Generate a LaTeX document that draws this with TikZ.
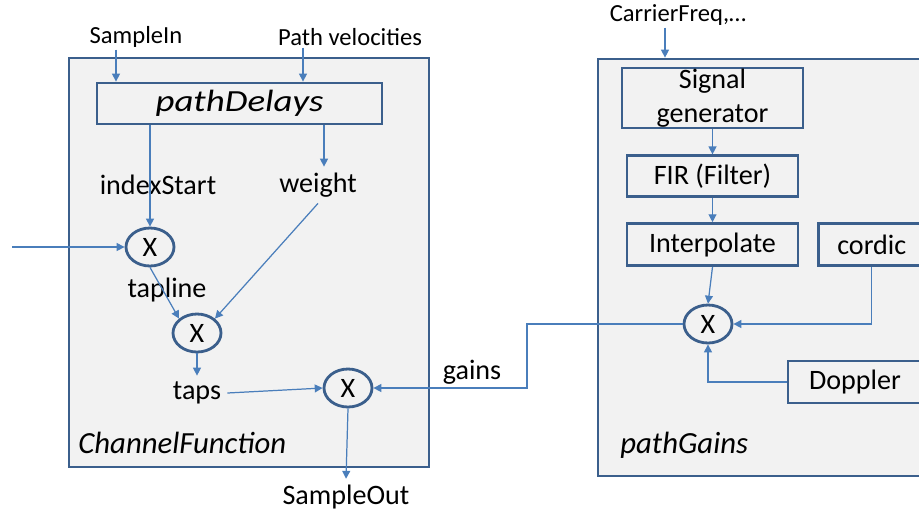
\documentclass[tikz,border=0pt]{standalone}
\usepackage{fontspec}
\usepackage{graphicx}
\setmainfont{Carlito}
\usetikzlibrary{positioning}
\usetikzlibrary{arrows.meta}
\usetikzlibrary{shapes.geometric}

\definecolor{boxblue}{HTML}{3B5F8C}
\definecolor{lineblue}{HTML}{4A7EBB}
\definecolor{panelgray}{HTML}{F2F2F2}

\tikzset{
  panel/.style={draw=boxblue, line width=1.6pt, fill=panelgray},
  block/.style={draw=boxblue, line width=1.6pt, fill=panelgray, inner sep=0pt,
    font=\fontsize{16}{19}\selectfont},
  mult/.style={ellipse, draw=boxblue, line width=1.6pt, fill=panelgray, inner sep=0pt,
    minimum width=0.96cm, minimum height=0.76cm, font=\fontsize{16}{19}\selectfont},
  arr/.style={draw=lineblue, line width=0.7pt, -{Triangle[length=4.5pt,width=4.5pt]}},
  lbl/.style={font=\fontsize{16}{19}\selectfont},
  inlbl/.style={font=\fontsize{14}{16}\selectfont, inner sep=1pt},
  blockname/.style={font=\fontsize{17.5}{20}\selectfont\itshape, inner sep=0pt, anchor=west},
}

\begin{document}
\begin{tikzpicture}[x=0.02cm, y=-0.02cm]
			\clip (0,0) rectangle (919,512);
			
			% channel function
			\node[panel, minimum width=7.2cm, minimum height=8.18cm] (cfun) at (249,262.5) {};
			\node[block, minimum width=5.7cm, minimum height=0.82cm, font=\fontsize{17.5}{20}\selectfont\itshape] (dl) at (239.5,103.5) {\scalebox{1.2}[1]{pathDelays}};
			\node[inlbl] (si) at (136,37) {SampleIn};
			\node[inlbl] (pv) at (350,37) {Path velocities};
			\node[lbl] (is) at (158,185) {indexStart};
			\node[lbl] (wt) at (318,185) {weight};
			\node[mult] (m1) at (150,247) {X};
			\node[lbl] (tl) at (167,290) {tapline};
			\node[mult] (m2) at (197,333) {X};
			\node[lbl] (tp) at (197,393) {taps};
			\node[mult] (m3) at (348,388) {X};
			\node[lbl] (so) at (346,497) {SampleOut};
			\node[blockname] (cfname) at (78,443) {ChannelFunction};
			\coordinate (in) at (12,247);
			
			% path gains
			\node[panel, minimum width=6.52cm, minimum height=8.34cm] (pg) at (761,267.5) {};
			\node[inlbl] (cq) at (678,15) {CarrierFreq,…};
			\node[block, minimum width=3.62cm, minimum height=1.2cm, align=center] (sg) at (712.5,98) {Signal\\generator};
			\node[block, minimum width=3.42cm, minimum height=0.82cm, below=0.5cm of sg] (fir) {FIR (Filter)};
			\node[block, minimum width=3.42cm, minimum height=0.84cm, below=0.48cm of fir] (ip) {Interpolate};
			\node[block, minimum width=2.12cm, minimum height=0.84cm, right=0.36cm of ip] (cd) {cordic};
			\node[mult] (m4) at (708,324) {X};
			\node[block, minimum width=2.68cm, minimum height=0.84cm] (dp) at (855,382) {Doppler};
			\node[blockname] (pgname) at (620,445) {pathGains};
			\node[lbl] (gn) at (472,372) {gains};
			\coordinate (gb) at (527,0);
			
			\draw[arr] ([xshift=-0.4cm]si.south) -- ([xshift=-0.4cm]si.south |- dl.north);
			\draw[arr] ([xshift=-0.94cm]pv.south) -- ([xshift=-0.94cm]pv.south |- dl.north);
			\draw[arr] (dl.south -| m1.north) -- (m1.north);
			\draw[arr] ([xshift=0.12cm]wt.north |- dl.south) -- ([xshift=0.12cm]wt.north);
			\draw[arr] (wt.south) -- (m2.north east);
			\draw[arr] (in) -- (m1.west);
			\draw[arr] (m1.south) -- (m2.north west);
			\draw[arr] (m2.south) -- (tp.north);
			\draw[arr] (tp.east) -- (m3.west);
			\draw[arr] (m3.south) -- (so.north);
			\draw[arr] (m4.west) -- (m4.west -| gb) |- (m3.east);
			
			\draw[arr] ([xshift=-0.26cm]cq.south) -- ([xshift=-0.26cm]cq.south |- pg.north);
			\draw[arr] (sg.south) -- (fir.north);
			\draw[arr] (fir.south) -- (ip.north);
			\draw[arr] (ip.south) -- (m4.north);
			\draw[arr] (cd.south) |- (m4.east);
			\draw[arr] (dp.west) -| (m4.south);
\end{tikzpicture}
\end{document}
